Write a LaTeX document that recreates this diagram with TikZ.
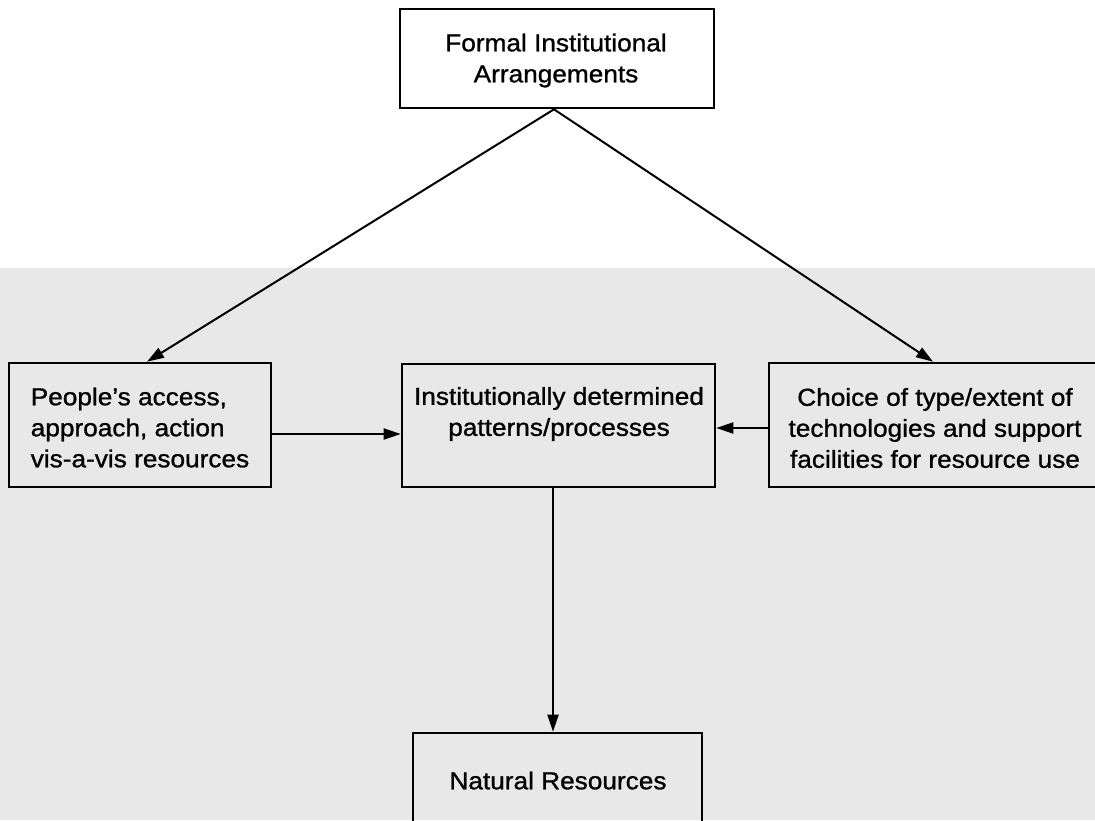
\documentclass[tikz,border=0pt]{standalone}
\usepackage{fontspec}
\setmainfont{Liberation Sans}[FakeStretch=1.07,FakeBold=1]
\usetikzlibrary{arrows.meta}
\definecolor{bggray}{RGB}{232,232,232}
\tikzset{
  boxnode/.style={draw=black, line width=2.6pt, inner sep=0pt},
  lbl/.style={font=\fontsize{24.5pt}{31pt}\selectfont, inner sep=0pt},
  conn/.style={line width=2pt, -{Triangle[length=17pt,width=11pt]}},
}
\begin{document}
\begin{tikzpicture}[x=1pt,y=-1pt]
\useasboundingbox (0,0) rectangle (1095,820);
\fill[bggray] (0,268) rectangle (1095,820);
% boxes
\node[boxnode, minimum width=314pt, minimum height=99pt] (top) at (557,58.5) {};
\node[boxnode, minimum width=262pt, minimum height=124pt] (left) at (140,425) {};
\node[boxnode, minimum width=313pt, minimum height=123pt] (mid) at (558.5,425.5) {};
\node[boxnode, minimum width=332pt, minimum height=124pt] (right) at (935,425) {};
\node[boxnode, minimum width=289pt, minimum height=117pt] (bot) at (557.5,791.5) {};
% labels
\node[lbl, align=center] (toplbl) at (556,60.5) {Formal Institutional\\Arrangements};
\node[lbl, align=left] (leftlbl) at (140,427.5) {People's access,\\approach, action\\vis-a-vis resources};
\node[lbl, align=center] (midlbl) at (559,414) {Institutionally determined\\patterns/processes};
\node[lbl, align=center] (rightlbl) at (935,428) {Choice of type/extent of\\technologies and support\\facilities for resource use};
\node[lbl, align=center] (botlbl) at (558,780.5) {Natural Resources};
% connectors
\draw[conn] ([xshift=-3pt]top.south) -- ([xshift=7pt]left.north);
\draw[conn] ([xshift=-3pt]top.south) -- ([xshift=-2pt]right.north);
\draw[conn] ([yshift=-9pt]left.east) -- ([yshift=-8.5pt]mid.west);
\draw[conn] ([yshift=-3pt]right.west) -- ([yshift=-2.5pt]mid.east);
\draw[conn] ([xshift=-5.5pt]mid.south) -- ([xshift=-4.5pt]bot.north);
\end{tikzpicture}
\end{document}
